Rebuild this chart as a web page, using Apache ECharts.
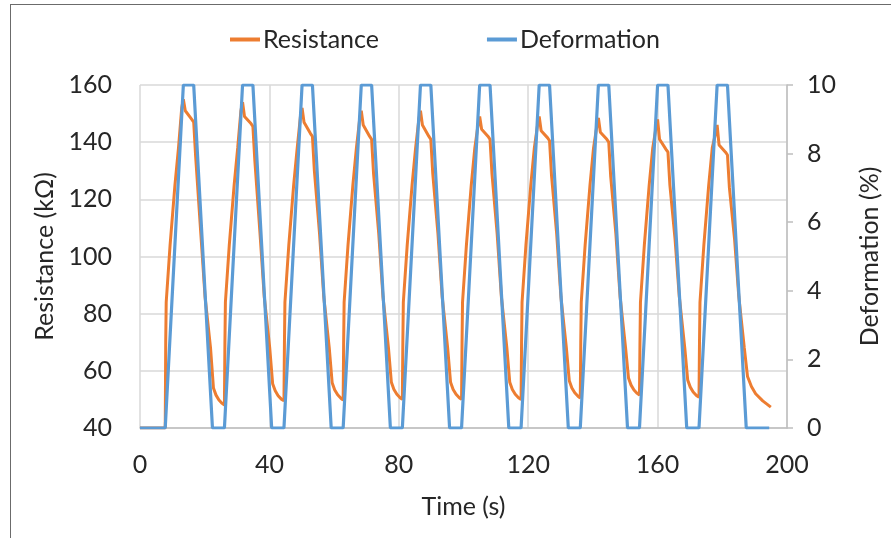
<!DOCTYPE html>
<html>
<head>
<meta charset="utf-8">
<script src="https://cdn.jsdelivr.net/npm/echarts@6/dist/echarts.min.js"></script>
<style>
html,body{margin:0;padding:0;background:#fff;}
#chart{width:891px;height:538px;}
#frame{position:absolute;left:10px;top:4px;width:881px;height:534px;border-top:1.5px solid #6b6b6b;border-left:1.5px solid #6b6b6b;pointer-events:none;}
</style>
</head>
<body>
<div id="chart"></div>
<div id="frame"></div>
<script>
// Tick labels / axis ranges
const xTicks = [0, 40, 80, 120, 160, 200];
const leftTicks = [40, 60, 80, 100, 120, 140, 160];
const rightTicks = [0, 2, 4, 6, 8, 10];

// Resistance (kΩ) vs time (s)
const resTime = [
  0, 7.8,
  7.95, 8.1, 9.3, 10.8, 11.9, 12.9, 13.4, 14.0, 16.0, 16.6, 17.2, 18.8, 20.1, 21.8, 22.7, 23.5, 24.4, 25.4,
  26.1, 26.25, 26.4, 27.6, 29.1, 30.2, 31.2, 31.7, 32.3, 34.3, 34.9, 35.5, 37.1, 38.4, 40.1, 41.0, 41.8, 42.7, 43.7,
  44.5, 44.65, 44.8, 46.0, 47.5, 48.6, 49.6, 50.1, 50.7, 52.7, 53.3, 53.9, 55.5, 56.8, 58.5, 59.4, 60.2, 61.1, 62.1,
  62.8, 62.95, 63.1, 64.3, 65.8, 66.9, 67.9, 68.4, 69.0, 71.0, 71.6, 72.2, 73.8, 75.1, 76.8, 77.7, 78.5, 79.4, 80.4,
  81.1, 81.25, 81.4, 82.6, 84.1, 85.2, 86.2, 86.7, 87.3, 89.3, 89.9, 90.5, 92.1, 93.4, 95.1, 96.0, 96.8, 97.7, 98.7,
  99.4, 99.55, 99.7, 100.9, 102.4, 103.5, 104.5, 105.0, 105.6, 107.6, 108.2, 108.8, 110.4, 111.7, 113.4, 114.3, 115.1, 116.0, 117.0,
  117.8, 117.95, 118.1, 119.3, 120.8, 121.9, 122.9, 123.4, 124.0, 126.0, 126.6, 127.2, 128.8, 130.1, 131.8, 132.7, 133.5, 134.4, 135.4,
  136.1, 136.25, 136.4, 137.6, 139.1, 140.2, 141.2, 141.7, 142.3, 144.3, 144.9, 145.5, 147.1, 148.4, 150.1, 151.0, 151.8, 152.7, 153.7,
  154.4, 154.55, 154.7, 155.9, 157.4, 158.5, 159.5, 160.0, 160.6, 162.6, 163.2, 163.8, 165.4, 166.7, 168.4, 169.3, 170.1, 171.0, 172.0,
  172.8, 172.95, 173.1, 174.3, 175.8, 176.9, 177.9, 178.4, 179.0, 181.0, 181.6, 182.2, 183.8, 185.1, 186.8, 187.8, 189.0, 190.3, 192.5, 195.0
];
const resValue = [
  40, 40,
  70, 84, 104, 125, 138, 152, 155, 151, 148, 147, 135, 108, 86, 68, 54, 51.5, 49.8, 48.6,
  48, 70, 84, 104, 125, 138, 151, 154, 149, 146.5, 145.5, 133.5, 108, 86, 68, 55.5, 53, 51.3, 50.1,
  49.5, 70, 84, 104, 125, 138, 149, 152, 147, 143, 142, 130, 108, 86, 68, 55.8, 53.3, 51.6, 50.4,
  49.8, 70, 84, 104, 125, 138, 148, 151, 146, 142, 141, 129, 108, 86, 68, 56, 53.5, 51.8, 50.6,
  50, 70, 84, 104, 125, 138, 148, 151, 146, 142, 141, 129, 108, 86, 68, 56, 53.5, 51.8, 50.6,
  50, 70, 84, 104, 125, 138, 146, 149, 144.5, 142, 141, 129, 108, 86, 68, 56, 53.5, 51.8, 50.6,
  50, 70, 84, 104, 125, 138, 146, 149, 144, 141.5, 140.5, 128.5, 108, 86, 68, 56.5, 54, 52.3, 51.1,
  50.5, 70, 84, 104, 125, 138, 145.5, 148.5, 143.5, 141, 140, 128, 108, 86, 68, 57.5, 55, 53.3, 52.1,
  51.5, 70, 84, 104, 125, 138, 145, 148, 141, 137.5, 136.5, 125, 106, 86, 68, 56.8, 54.3, 52.6, 51.4,
  50.8, 70, 84, 104, 125, 138, 143, 146, 139, 136.5, 135.5, 124, 106, 86, 68, 58, 54.5, 52, 49.5, 47.3
];

// Deformation (%) vs time (s)
const defTime = [
  0, 7.8, 13.4, 16.6, 22.4,
  26.1, 31.7, 34.9, 40.7,
  44.5, 50.1, 53.3, 59.1,
  62.8, 68.4, 71.6, 77.4,
  81.1, 86.7, 89.9, 95.7,
  99.4, 105.0, 108.2, 114.0,
  117.8, 123.4, 126.6, 132.4,
  136.1, 141.7, 144.9, 150.7,
  154.4, 160.0, 163.2, 169.0,
  172.8, 178.4, 181.6, 187.4,
  194.5
];
const defValue = [
  0, 0, 10, 10, 0,
  0, 10, 10, 0,
  0, 10, 10, 0,
  0, 10, 10, 0,
  0, 10, 10, 0,
  0, 10, 10, 0,
  0, 10, 10, 0,
  0, 10, 10, 0,
  0, 10, 10, 0,
  0, 10, 10, 0,
  0
];

const resData = resTime.map((t, i) => [t, resValue[i]]);
const defData = defTime.map((t, i) => [t, defValue[i]]);

const FONT = 'Lato';
const TXT = '#262626';
const GRID = '#d9d9d9';
const AX = '#bfbfbf';

const chart = echarts.init(document.getElementById('chart'), null, {renderer: 'canvas'});
chart.setOption({
  animation: false,
  backgroundColor: '#ffffff',
  legend: {
    top: 22,
    left: 225,
    itemGap: 108,
    itemWidth: 30,
    itemHeight: 4,
    icon: 'rect',
    textStyle: {fontFamily: FONT, fontSize: 25, color: TXT, padding: [0, 0, 0, -2]},
    data: ['Resistance', 'Deformation']
  },
  grid: {left: 140, right: 104, top: 85, bottom: 110, containLabel: false},
  xAxis: {
    type: 'value',
    min: xTicks[0], max: xTicks[xTicks.length - 1], interval: 40,
    name: 'Time (s)', nameLocation: 'middle', nameGap: 66,
    nameTextStyle: {fontFamily: FONT, fontSize: 25, color: TXT},
    axisLine: {show: true, lineStyle: {color: AX, width: 1.5}},
    axisTick: {show: false},
    axisLabel: {fontFamily: FONT, fontSize: 25, color: TXT, margin: 24},
    splitLine: {show: true, lineStyle: {color: GRID, width: 1.5}}
  },
  yAxis: [
    {
      type: 'value',
      min: leftTicks[0], max: leftTicks[leftTicks.length - 1], interval: 20,
      name: 'Resistance (kΩ)', nameLocation: 'middle', nameGap: 74, nameRotate: 90,
      nameTextStyle: {fontFamily: FONT, fontSize: 25, color: TXT},
      axisLine: {show: false},
      axisTick: {show: false},
      axisLabel: {fontFamily: FONT, fontSize: 25, color: TXT, margin: 28},
      splitLine: {show: true, lineStyle: {color: GRID, width: 1.5}}
    },
    {
      type: 'value',
      min: rightTicks[0], max: rightTicks[rightTicks.length - 1], interval: 2,
      position: 'right',
      name: 'Deformation (%)', nameLocation: 'middle', nameGap: 70, nameRotate: 90,
      nameTextStyle: {fontFamily: FONT, fontSize: 25, color: TXT},
      axisLine: {show: true, lineStyle: {color: AX, width: 1.5}},
      axisTick: {show: true, inside: false, length: 6, lineStyle: {color: AX, width: 1.5}},
      axisLabel: {fontFamily: FONT, fontSize: 25, color: TXT, margin: 20},
      splitLine: {show: false}
    }
  ],
  series: [
    {
      name: 'Resistance',
      type: 'line',
      yAxisIndex: 0,
      data: resData,
      symbol: 'none',
      smooth: false,
      lineStyle: {color: '#ED7D31', width: 3},
      itemStyle: {color: '#ED7D31'}
    },
    {
      name: 'Deformation',
      type: 'line',
      yAxisIndex: 1,
      data: defData,
      symbol: 'none',
      lineStyle: {color: '#5B9BD5', width: 3.2},
      itemStyle: {color: '#5B9BD5'}
    }
  ]
});
</script>
</body>
</html>
